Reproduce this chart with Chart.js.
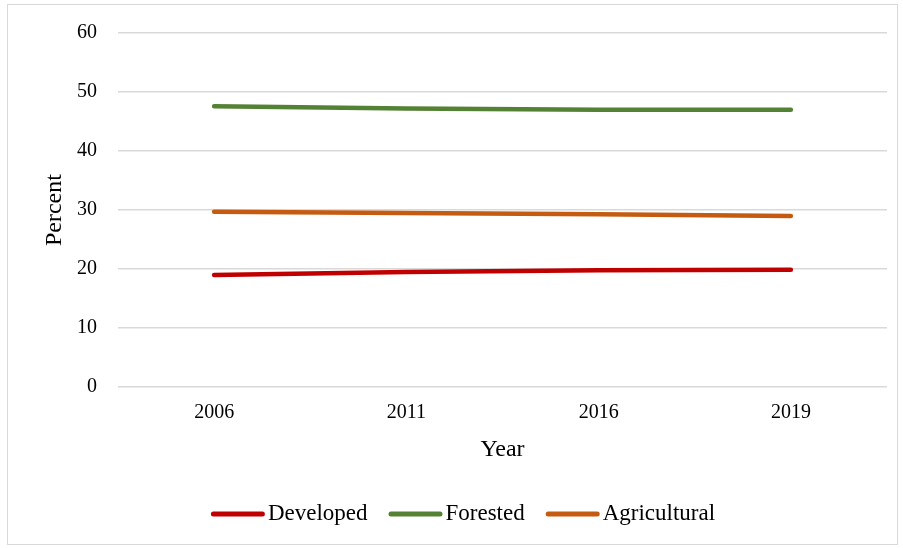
<!DOCTYPE html>
<html>
<head>
<meta charset="utf-8">
<script src="https://cdn.jsdelivr.net/npm/chart.js@4.4.0/dist/chart.umd.min.js"></script>
<style>
  html, body { margin: 0; padding: 0; background: #fff; }
  #wrap { position: relative; width: 903px; height: 548px; }
  #frame { position: absolute; left: 7px; top: 4px; width: 889px; height: 539px; border: 1.5px solid #d9d9d9; }
  canvas { position: absolute; left: 0; top: 0; }
</style>
</head>
<body>
<div id="wrap">
  <div id="frame"></div>
  <canvas id="c" width="903" height="548"></canvas>
</div>
<script>
const years = ['2006', '2011', '2016', '2019'];
const developed = [19.0, 19.5, 19.8, 19.9];
const forested = [47.6, 47.2, 47.0, 47.0];
const agricultural = [29.7, 29.5, 29.3, 29.0];

const serif = "'Liberation Serif', 'Times New Roman', serif";

function ds(label, data, color) {
  return {
    label, data,
    borderColor: color, backgroundColor: color,
    borderWidth: 4.5, borderCapStyle: 'round', borderJoinStyle: 'round',
    pointRadius: 0, tension: 0, fill: false
  };
}

// Custom legend: line swatch directly followed by label (as in the reference)
const lineLegend = {
  id: 'lineLegend',
  afterDraw(chart) {
    const ctx = chart.ctx;
    const font = '23px ' + serif;
    const lineLen = 54, gapText = 3, gapItem = 21, cy = 514, cx = 463;
    ctx.save();
    ctx.font = font;
    const items = chart.data.datasets.map(d => ({ d, w: ctx.measureText(d.label).width }));
    const total = items.reduce((s, it) => s + lineLen + gapText + it.w, 0) + gapItem * (items.length - 1);
    let x = cx - total / 2;
    ctx.textBaseline = 'middle';
    ctx.textAlign = 'left';
    items.forEach(it => {
      ctx.strokeStyle = it.d.borderColor;
      ctx.lineWidth = 5;
      ctx.lineCap = 'round';
      ctx.beginPath();
      ctx.moveTo(x + 2.5, cy);
      ctx.lineTo(x + lineLen - 2.5, cy);
      ctx.stroke();
      ctx.fillStyle = '#000';
      ctx.fillText(it.d.label, x + lineLen + gapText, cy);
      x += lineLen + gapText + it.w + gapItem;
    });
    ctx.restore();
  }
};

new Chart(document.getElementById('c'), {
  type: 'line',
  data: {
    labels: years,
    datasets: [
      ds('Developed', developed, '#C00000'),
      ds('Forested', forested, '#548235'),
      ds('Agricultural', agricultural, '#C55A11')
    ]
  },
  plugins: [lineLegend],
  options: {
    responsive: false,
    animation: false,
    layout: { padding: { top: 25, right: 16, left: 0, bottom: 84 } },
    plugins: {
      tooltip: { enabled: false },
      legend: { display: false }
    },
    scales: {
      x: {
        offset: true,
        grid: { display: false, drawTicks: false },
        border: { display: false },
        ticks: { color: '#000', font: { family: serif, size: 20 }, padding: 14 },
        title: { display: true, text: 'Year', color: '#000', font: { family: serif, size: 24 }, padding: { top: -4, bottom: 0 } }
      },
      y: {
        min: 0, max: 60,
        ticks: { stepSize: 10, color: '#000', font: { family: serif, size: 20 }, padding: 21 },
        grid: { color: '#d9d9d9', lineWidth: 1.5, drawTicks: false },
        border: { display: false },
        title: { display: true, text: 'Percent', color: '#000', font: { family: serif, size: 24 }, padding: { top: 40, bottom: 0 } },
        afterFit: (s) => { s.width = 118; }
      }
    }
  }
});
</script>
</body>
</html>
